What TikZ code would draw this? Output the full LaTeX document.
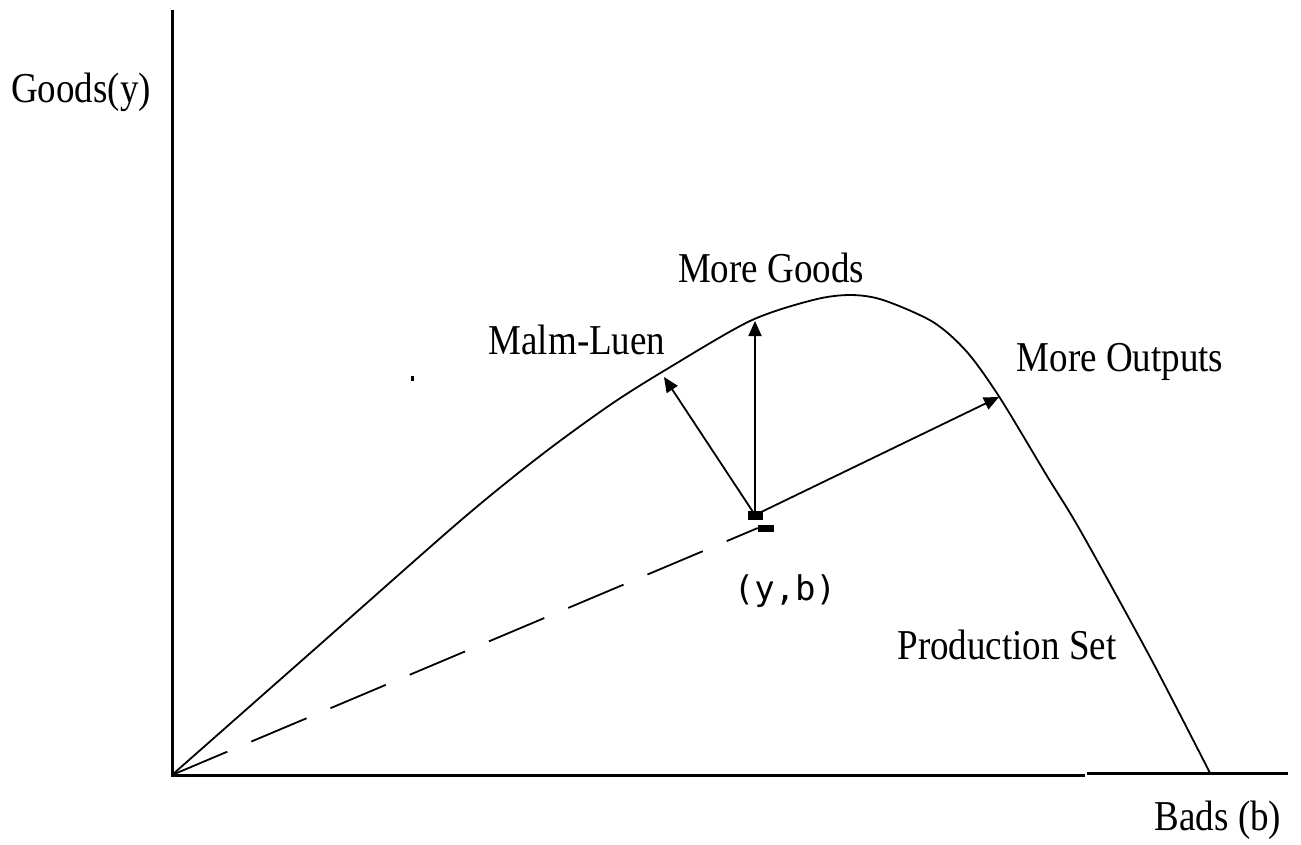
\documentclass[tikz,border=0pt]{standalone}
\usepackage{fontspec}
\setmainfont{Liberation Serif}
\newfontfamily\ybfont{DejaVu Sans Mono}
\usetikzlibrary{arrows.meta}
\newcommand{\tall}[1]{\scalebox{1}[1.15]{#1}}
\begin{document}
\begin{tikzpicture}[x=1pt,y=-1pt,
  lbl/.style={font=\fontsize{37}{40}\selectfont, inner sep=0pt},
  axis/.style={line width=3pt},
  curve/.style={line width=1.8pt},
  arr/.style={line width=1.8pt,-{Triangle[length=15pt,width=13pt]}},
  marker/.style={fill=black, inner sep=0pt}]
\useasboundingbox (0,0) rectangle (1301,845);
\fill[white] (0,0) rectangle (1301,845);
% axes
\coordinate (O) at (172,775);
\coordinate (Ytop) at (172,10);
\coordinate (Xend) at (1085,775);
\coordinate (X2a) at (1087,773);
\coordinate (X2b) at (1288,773);
\draw[axis] (Ytop) -- (O) -- (Xend);
\draw[axis] (X2a) -- (X2b);
% frontier
\draw[curve] plot[smooth, tension=0.5] coordinates {(172,775) (316,648) (460,521) (540,456) (610,405) (667,369) (750,321) (813,300) (850,295) (883,300) (933,322) (967,352) (1000,398) (1047,476) (1080,530) (1150,657) (1210,773)};
% point
\node[marker, minimum width=15pt, minimum height=9pt] (P) at (755,515) {};
\node[marker, minimum width=16pt, minimum height=7pt] (P2) at (766,528) {};
% frontier targets
\coordinate (ML) at (664,377);
\coordinate (MG) at (755,321);
\coordinate (MO) at (999,397);
% dashed ray
\draw[curve, dash pattern=on 60pt off 26pt] (O) -- (P2.west);
% arrows
\draw[arr] (P.center) -- (ML);
\draw[arr] (P.center) -- (MG);
\draw[arr] (P.center) -- (MO);
% stray dot
\fill (411,376) rectangle (414,381);
% labels
\node[lbl] (gy) at (81,92) {\tall{Goods(y)}};
\node[lbl] (mg) at (771,268) {\tall{More Goods}};
\node[lbl] (mlu) at (577,340) {\tall{Malm-Luen}};
\node[lbl] (mo) at (1120,362) {\tall{More Outputs}};
\node[lbl, font=\ybfont\fontsize{34}{36}\selectfont] (yb) at (785,591) {(y,b)};
\node[lbl] (ps) at (1007,645) {\tall{Production Set}};
\node[lbl] (bb) at (1218,820) {\tall{Bads (b)}};
\end{tikzpicture}
\end{document}
